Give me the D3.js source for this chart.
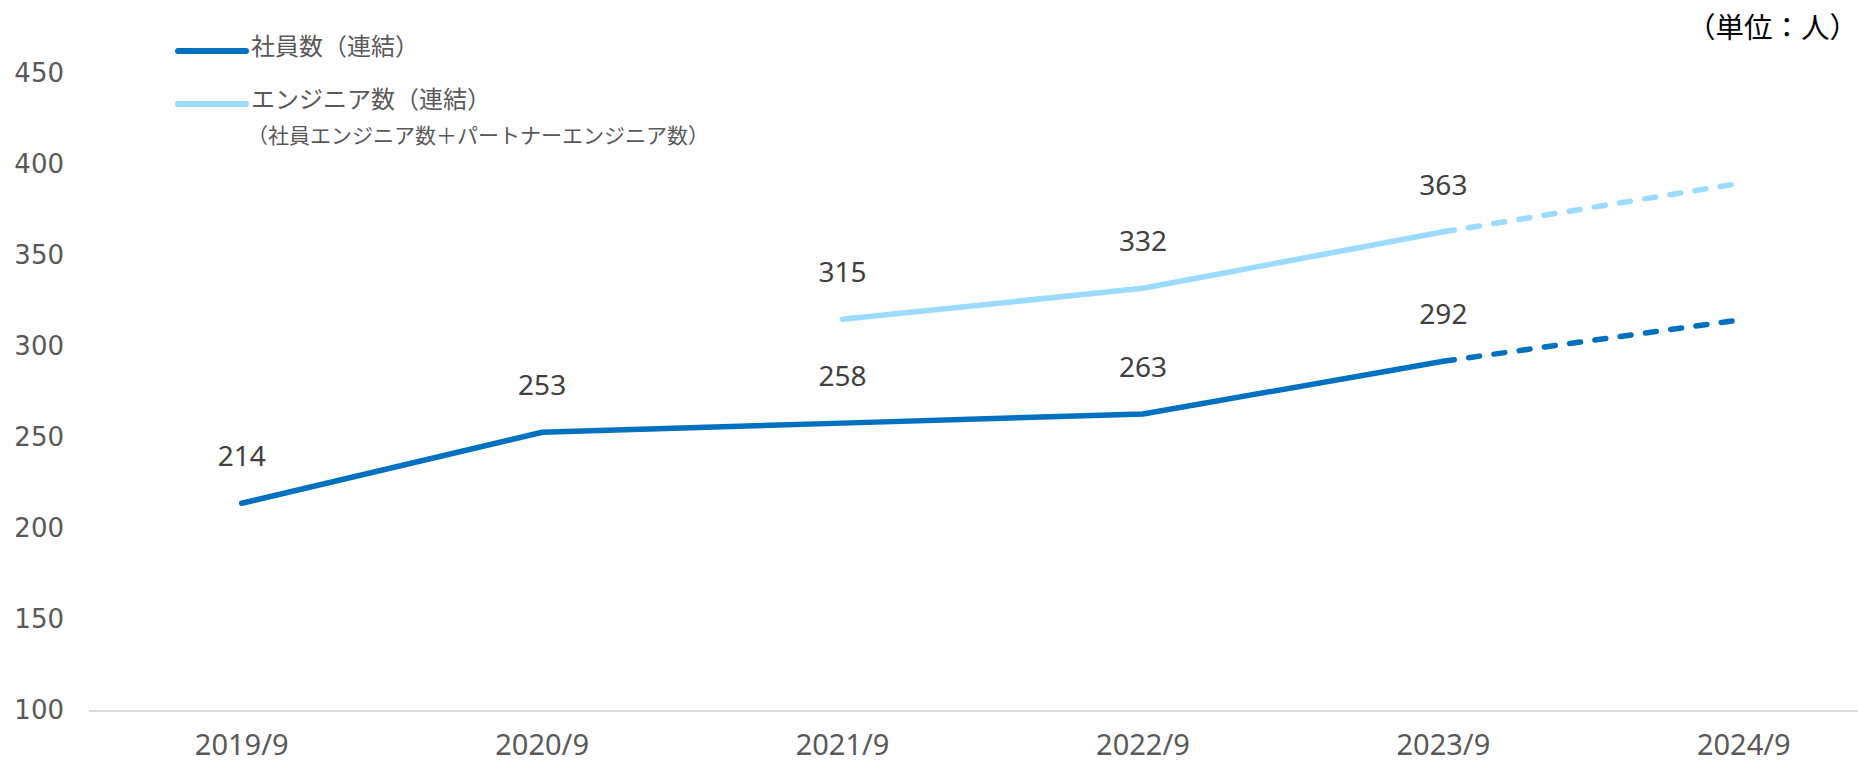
<!DOCTYPE html>
<html lang="ja">
<head>
    <meta charset="utf-8">
    <title>社員数・エンジニア数</title>
    <script src="https://cdn.jsdelivr.net/npm/d3@7"></script>
    <style type="text/css">
        body {
            margin: 0;
            background: #fff;
        }

        .axis text {
            fill: #595959;
        }

        .legend text {
            fill: #595959;
            font-family: "Noto Sans CJK JP", sans-serif;
        }

        .label {
            fill: #404040;
            font-family: "Noto Sans", sans-serif;
            font-size: 28px;
            text-anchor: middle;
        }
    </style>
</head>
<body>
    <div id="chart"></div>
    <script>
        // data
        var years = ["2019/9", "2020/9", "2021/9", "2022/9", "2023/9", "2024/9"];
        var employees = [214, 253, 258, 263, 292, 315];
        var engineers = [null, null, 315, 332, 363, 390];
        // last point of each series is a forecast (dashed, no label)
        var forecastFrom = "2023/9";
        var yTicks = [100, 150, 200, 250, 300, 350, 400, 450];

        var width = 1858,
            height = 763;

        var darkBlue = "#0070c0",
            lightBlue = "#9bdbff";

        var svg = d3.select("#chart")
            .append("svg")
            .attr("width", width)
            .attr("height", height);

        var x = d3.scaleBand()
            .domain(years)
            .range([91.5, 1894])
            .padding(0);

        var y = d3.scaleLinear()
            .domain([100, 450])
            .range([711, 73.3]);

        function cx(d) { return x(d) + x.bandwidth() / 2; }

        //y axis labels
        var yAxis = svg.append("g")
            .attr("class", "axis")
            .attr("transform", "translate(64,0)")
            .call(d3.axisLeft(y).tickValues(yTicks).tickSize(0).tickPadding(0));
        yAxis.select(".domain").remove();
        yAxis.selectAll("text")
            .attr("font-family", "'DejaVu Sans', Verdana, sans-serif")
            .attr("font-size", 26)
            .attr("dy", "0.3em");

        //x axis
        var xAxis = svg.append("g")
            .attr("class", "axis")
            .attr("transform", "translate(0," + y(100) + ")")
            .call(d3.axisBottom(x).tickSize(0).tickPadding(0));
        xAxis.select(".domain")
            .attr("stroke", "#d9d9d9")
            .attr("stroke-width", 2)
            .attr("d", "M89,0H" + width);
        xAxis.selectAll("text")
            .attr("font-family", "'Noto Sans', sans-serif")
            .attr("font-size", 29)
            .attr("y", 44)
            .attr("dy", 0);

        //lines
        var series = [
            { name: "社員数（連結）", values: employees, color: darkBlue },
            { name: "エンジニア数（連結）", values: engineers, color: lightBlue }
        ];

        var line = d3.line()
            .defined(function (d) { return d.v != null; })
            .x(function (d) { return cx(d.year); })
            .y(function (d) { return y(d.v); });

        var cut = years.indexOf(forecastFrom);

        series.forEach(function (s) {
            var pts = years.map(function (yr, i) { return { year: yr, v: s.values[i] }; });

            svg.append("path")
                .datum(pts.slice(0, cut + 1))
                .attr("fill", "none")
                .attr("stroke", s.color)
                .attr("stroke-width", 5.5)
                .attr("stroke-linejoin", "round")
                .attr("stroke-linecap", "round")
                .attr("d", line);

            svg.append("path")
                .datum(pts.slice(cut))
                .attr("fill", "none")
                .attr("stroke", s.color)
                .attr("stroke-width", 5.5)
                .attr("stroke-linecap", "round")
                .attr("stroke-dasharray", "11,14.5")
                .attr("d", line);

            svg.selectAll(null)
                .data(pts.slice(0, cut + 1).filter(function (d) { return d.v != null; }))
                .enter()
                .append("text")
                .attr("class", "label")
                .attr("x", function (d) { return cx(d.year); })
                .attr("y", function (d) { return y(d.v) - 37; })
                .text(function (d) { return d.v; });
        });

        //legend
        var legend = svg.append("g").attr("class", "legend");
        var legendY = [51, 104];
        series.forEach(function (s, i) {
            legend.append("line")
                .attr("x1", 178)
                .attr("x2", 246)
                .attr("y1", legendY[i])
                .attr("y2", legendY[i])
                .attr("stroke", s.color)
                .attr("stroke-width", 6)
                .attr("stroke-linecap", "round");
            legend.append("text")
                .attr("x", 251)
                .attr("y", legendY[i] - 4)
                .attr("dy", "0.35em")
                .attr("font-size", 24)
                .text(s.name);
        });
        legend.append("text")
            .attr("x", 247)
            .attr("y", 136)
            .attr("dy", "0.35em")
            .attr("font-size", 21)
            .text("（社員エンジニア数＋パートナーエンジニア数）");

        //unit
        svg.append("text")
            .attr("x", 1858)
            .attr("y", 28)
            .attr("dy", "0.35em")
            .attr("text-anchor", "end")
            .attr("font-family", "'Noto Sans CJK JP', sans-serif")
            .attr("font-size", 28.5)
            .attr("fill", "#000")
            .text("（単位：人）");
    </script>
</body>
</html>
